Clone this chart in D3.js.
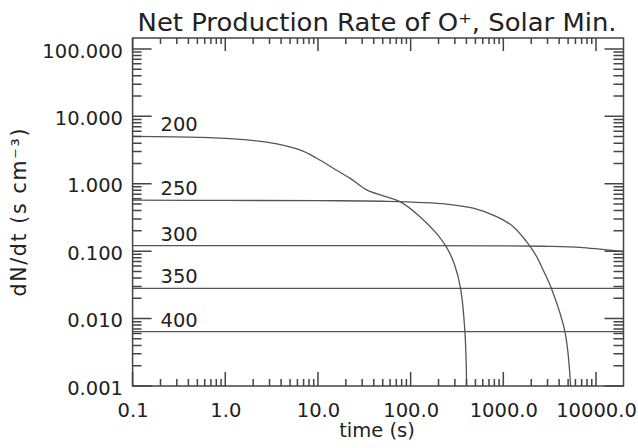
<!DOCTYPE html>
<html>
<head>
<meta charset="utf-8">
<script src="https://cdn.jsdelivr.net/npm/d3@7"></script>
<style>
  html, body { margin: 0; padding: 0; background: #fff; }
  svg { display: block; }
  text { font-family: "DejaVu Sans", sans-serif; fill: #222; }
</style>
</head>
<body>
<svg id="chart" width="638" height="448" viewBox="0 0 638 448"></svg>
<script>
// ---- data ----
const seriesNames = ["200", "250", "300", "350", "400"];
const t200 = [0.1, 0.53, 1.21, 2.8, 6.4, 9.7, 14.6, 22.1, 33.5, 50.6, 76.7, 126, 192, 247, 301, 346, 385, 402];
const v200 = [5.03, 4.86, 4.62, 4.13, 3.17, 2.39, 1.70, 1.21, 0.81, 0.66, 0.542, 0.325, 0.180, 0.111, 0.0603, 0.0278, 0.0064, 0.001];
const t250 = [0.1, 1, 10, 50, 244, 473, 847, 1280, 1780, 2290, 2690, 3320, 4620, 5320];
const v250 = [0.57, 0.566, 0.56, 0.55, 0.50, 0.433, 0.325, 0.231, 0.138, 0.083, 0.0526, 0.0275, 0.0064, 0.001];
const t300 = [0.1, 100, 1000, 3000, 6700, 11000, 19800];
const v300 = [0.121, 0.121, 0.12, 0.118, 0.114, 0.107, 0.098];
const t350 = [0.1, 19800];
const v350 = [0.028, 0.028];
const t400 = [0.1, 19800];
const v400 = [0.0064, 0.0064];
const xMajorTicks = [0.1, 1, 10, 100, 1000, 10000];
const xTickLabels = ["0.1", "1.0", "10.0", "100.0", "1000.0", "10000.0"];
const yMajorTicks = [100, 10, 1, 0.1, 0.01, 0.001];
const yTickLabels = ["100.000", "10.000", "1.000", "0.100", "0.010", "0.001"];
const xDomain = [0.1, 19800];
const yDomain = [0.001, 145];
const labelTime = 0.2;

const series = [
  { name: seriesNames[0], t: t200, v: v200 },
  { name: seriesNames[1], t: t250, v: v250 },
  { name: seriesNames[2], t: t300, v: v300 },
  { name: seriesNames[3], t: t350, v: v350 },
  { name: seriesNames[4], t: t400, v: v400 }
];

// ---- layout ----
const L = 132.6, R = 623.5, T = 38, B = 386;
const svg = d3.select("#chart");
const x = d3.scaleLog().domain(xDomain).range([L, R]);
const y = d3.scaleLog().domain(yDomain).range([B, T]);

function minors(dom) {
  const out = [];
  const lo = Math.floor(Math.log10(dom[0])), hi = Math.ceil(Math.log10(dom[1]));
  for (let e = lo; e <= hi; e++) {
    for (let k = 2; k <= 9; k++) {
      const v = k * Math.pow(10, e);
      if (v > dom[0] && v < dom[1]) out.push(v);
    }
  }
  return out;
}
const xMinor = minors(xDomain), yMinor = minors(yDomain);
const axisColor = "#444";

// clip
svg.append("clipPath").attr("id", "plotclip").append("rect")
  .attr("x", L).attr("y", T).attr("width", R - L).attr("height", B - T);

// curves
const line = d3.line().x(d => x(d[0])).y(d => y(d[1])).curve(d3.curveCatmullRom.alpha(0.5));
const gPlot = svg.append("g").attr("clip-path", "url(#plotclip)");
series.forEach(s => {
  const pts = s.t.map((t, i) => [t, s.v[i]]);
  gPlot.append("path").attr("d", line(pts))
    .attr("fill", "none").attr("stroke", "#555").attr("stroke-width", 1.3);
});

// tick marks
const tickSpecs = [
  [xMajorTicks, "bottom", 14], [xMinor, "bottom", 7],
  [xMajorTicks, "top", 13], [xMinor, "top", 6],
  [yMajorTicks, "left", 19], [yMinor, "left", 9],
  [yMajorTicks, "right", 19], [yMinor, "right", 10]
];
const gTicks = svg.append("g");
tickSpecs.forEach(([vals, side, len]) => {
  const p = d3.path();
  vals.forEach(v => {
    if (side === "bottom") { p.moveTo(x(v), B); p.lineTo(x(v), B - len); }
    else if (side === "top") { p.moveTo(x(v), T); p.lineTo(x(v), T + len); }
    else if (side === "left") { p.moveTo(L, y(v)); p.lineTo(L + len, y(v)); }
    else { p.moveTo(R, y(v)); p.lineTo(R - len, y(v)); }
  });
  gTicks.append("path").attr("d", p.toString())
    .attr("fill", "none").attr("stroke", axisColor).attr("stroke-width", 1.5);
});

// frame
svg.append("rect").attr("x", L).attr("y", T).attr("width", R - L).attr("height", B - T)
  .attr("fill", "none").attr("stroke", axisColor).attr("stroke-width", 1.5);

// tick labels via d3 axes
function styleAxis(g) {
  g.select(".domain").remove();
  g.selectAll(".tick line").remove();
  g.selectAll("text").attr("fill", "#222")
    .style("font-family", '"DejaVu Sans", sans-serif').style("font-size", "19.5px");
}
svg.append("g").attr("transform", `translate(0,${B})`)
  .call(d3.axisBottom(x).tickValues(xMajorTicks).tickSize(0).tickPadding(17)
    .tickFormat((d, i) => xTickLabels[i]))
  .call(styleAxis);
svg.append("g").attr("transform", `translate(${L},0)`)
  .call(d3.axisLeft(y).tickValues(yMajorTicks).tickSize(0).tickPadding(9.6)
    .tickFormat((d, i) => yTickLabels[i]))
  .call(styleAxis)
  .call(g => g.selectAll("text").attr("dy", "0.42em"));

// series labels
series.forEach(s => {
  svg.append("text").attr("x", x(labelTime)).attr("y", y(s.v[0]) - 5)
    .style("font-size", "19.5px").text(s.name);
});

// title
svg.append("text").attr("x", (L + R) / 2 - 1).attr("y", 31).attr("text-anchor", "middle")
  .style("font-size", "25px").attr("textLength", 479).attr("lengthAdjust", "spacingAndGlyphs")
  .text("Net Production Rate of O\u207A, Solar Min.");

// x label
svg.append("text").attr("x", (L + R) / 2 - 1).attr("y", 437).attr("text-anchor", "middle")
  .style("font-size", "19.5px").text("time (s)");

// y label
svg.append("text").attr("transform", `translate(26,212.5) rotate(-90)`).attr("text-anchor", "middle")
  .style("font-size", "20.5px").attr("textLength", 168).attr("lengthAdjust", "spacing")
  .text("dN/dt (s cm\u207B\u00B3)");
</script>
</body>
</html>
